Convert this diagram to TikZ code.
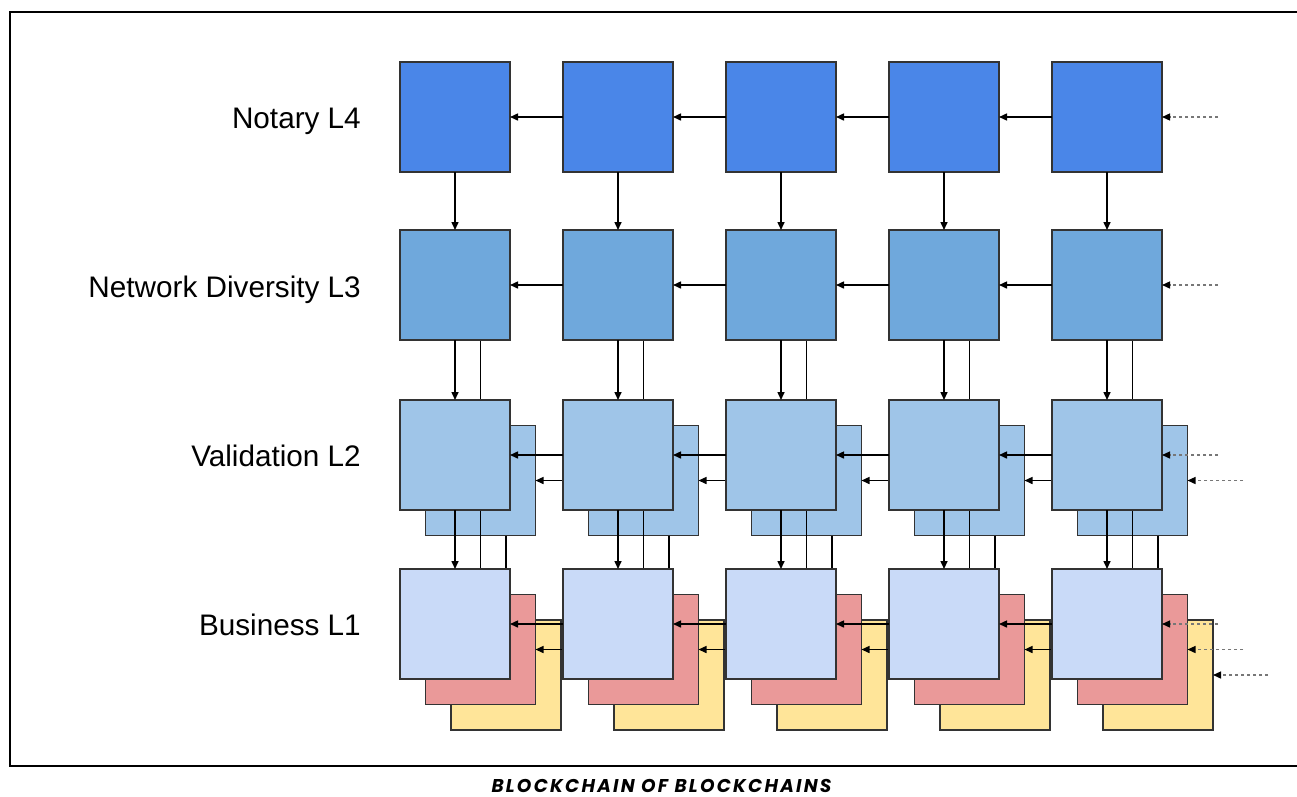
\documentclass[tikz,border=0pt]{standalone}
\usepackage{fontspec}
\setmainfont{Liberation Sans}
\newfontfamily\capfont{Poppins}[LetterSpace=12]
\usetikzlibrary{arrows.meta}
\definecolor{cfour}{HTML}{4A86E8}
\definecolor{cthree}{HTML}{6FA8DC}
\definecolor{ctwo}{HTML}{9FC5E8}
\definecolor{cone}{HTML}{C9DAF8}
\definecolor{cred}{HTML}{EA9999}
\definecolor{cyel}{HTML}{FFE599}
\definecolor{edge}{HTML}{333333}
\definecolor{dashc}{HTML}{777777}
\tikzset{
  blk/.style={draw=edge, line width=1.8pt, minimum width=110pt, minimum height=110pt, inner sep=0pt, outer sep=0pt},
  link/.style={draw=black, line width=1.5pt, -{Triangle[length=8pt,width=7pt]}},
  feed/.style={draw=dashc, line width=1.4pt, dash pattern=on 3pt off 3pt, -{Triangle[length=8pt,width=7pt,color=black]}},
  lvl/.style={anchor=base east, inner sep=0pt, font=\fontsize{29.7}{34}\selectfont}
}
\begin{document}
\begin{tikzpicture}[x=1pt,y=-1pt]
\useasboundingbox (0,0) rectangle (1297,796);
\fill[white] (0,0) rectangle (1297,796);
\draw[line width=2.2pt] (1300,12) -- (10,12) -- (10,766) -- (1300,766);
% level labels
\node[lvl] (t4) at (361,128) {Notary L4};
\node[lvl] (t3) at (361,297) {Network Diversity L3};
\node[lvl] (t2) at (361,466) {Validation L2};
\node[lvl] (t1) at (361,635) {Business L1};
% back layers
\foreach \i in {0,...,4} {
  \pgfmathsetmacro{\cx}{455+163*\i}
  \node[blk, fill=cyel] (y1-\i) at (\cx+51,675) {};
  \node[blk, fill=ctwo] (b2-\i) at (\cx+25.5,480.5) {};
}
\foreach \i in {0,...,4} {
  \pgfmathsetmacro{\cx}{455+163*\i}
  \node[blk, fill=cred] (r1-\i) at (\cx+25.5,649.5) {};
}
% back-layer chain arrows
\foreach \i [evaluate=\i as \j using int(\i+1)] in {0,...,3} {
  \draw[link] (b2-\j.west) -- (b2-\i.east);
  \draw[link] (r1-\j.west) -- (r1-\i.east);
}
% vertical links to back layers (partly hidden)
\foreach \i in {0,...,4} {
  \pgfmathsetmacro{\cx}{455+163*\i}
  \coordinate (s3-\i) at (\cx+25.5,340);
  \coordinate (s2-\i) at (\cx+25.5,510);
  \draw[link] (s3-\i) -- (b2-\i.north);
  \draw[link] (s2-\i) -- (r1-\i.north);
  \draw[link] (b2-\i.south -| y1-\i.north) -- (y1-\i.north);
}
% front layers
\foreach \i in {0,...,4} {
  \pgfmathsetmacro{\cx}{455+163*\i}
  \node[blk, fill=cfour] (n4-\i) at (\cx,117) {};
  \node[blk, fill=cthree] (n3-\i) at (\cx,285) {};
  \node[blk, fill=ctwo] (n2-\i) at (\cx,455) {};
  \node[blk, fill=cone] (n1-\i) at (\cx,624) {};
}
% front chain arrows
\foreach \i [evaluate=\i as \j using int(\i+1)] in {0,...,3} {
  \draw[link] (n4-\j.west) -- (n4-\i.east);
  \draw[link] (n3-\j.west) -- (n3-\i.east);
  \draw[link] (n2-\j.west) -- (n2-\i.east);
  \draw[link] (n1-\j.west) -- (n1-\i.east);
}
% front vertical arrows
\foreach \i in {0,...,4} {
  \draw[link] (n4-\i.south) -- (n3-\i.north);
  \draw[link] (n3-\i.south) -- (n2-\i.north);
  \draw[link] (n2-\i.south) -- (n1-\i.north);
}
% incoming dashed arrows
\coordinate (in4) at (1218,117);
\coordinate (in3) at (1218,285);
\coordinate (in2) at (1218,455);
\coordinate (in2b) at (1243,480.5);
\coordinate (in1) at (1218,624);
\coordinate (in1r) at (1243,649.5);
\coordinate (in1y) at (1268,675);
\draw[feed] (in4) -- (n4-4.east);
\draw[feed] (in3) -- (n3-4.east);
\draw[feed] (in2) -- (n2-4.east);
\draw[feed] (in2b) -- (b2-4.east);
\draw[feed] (in1) -- (n1-4.east);
\draw[feed] (in1r) -- (r1-4.east);
\draw[feed] (in1y) -- (y1-4.east);
% caption
\node[inner sep=0pt, anchor=base, font={\capfont\bfseries\itshape\fontsize{18.5}{20}\selectfont}] (cap) at (661.5,792) {BLOCKCHAIN OF BLOCKCHAINS};
\end{tikzpicture}
\end{document}
